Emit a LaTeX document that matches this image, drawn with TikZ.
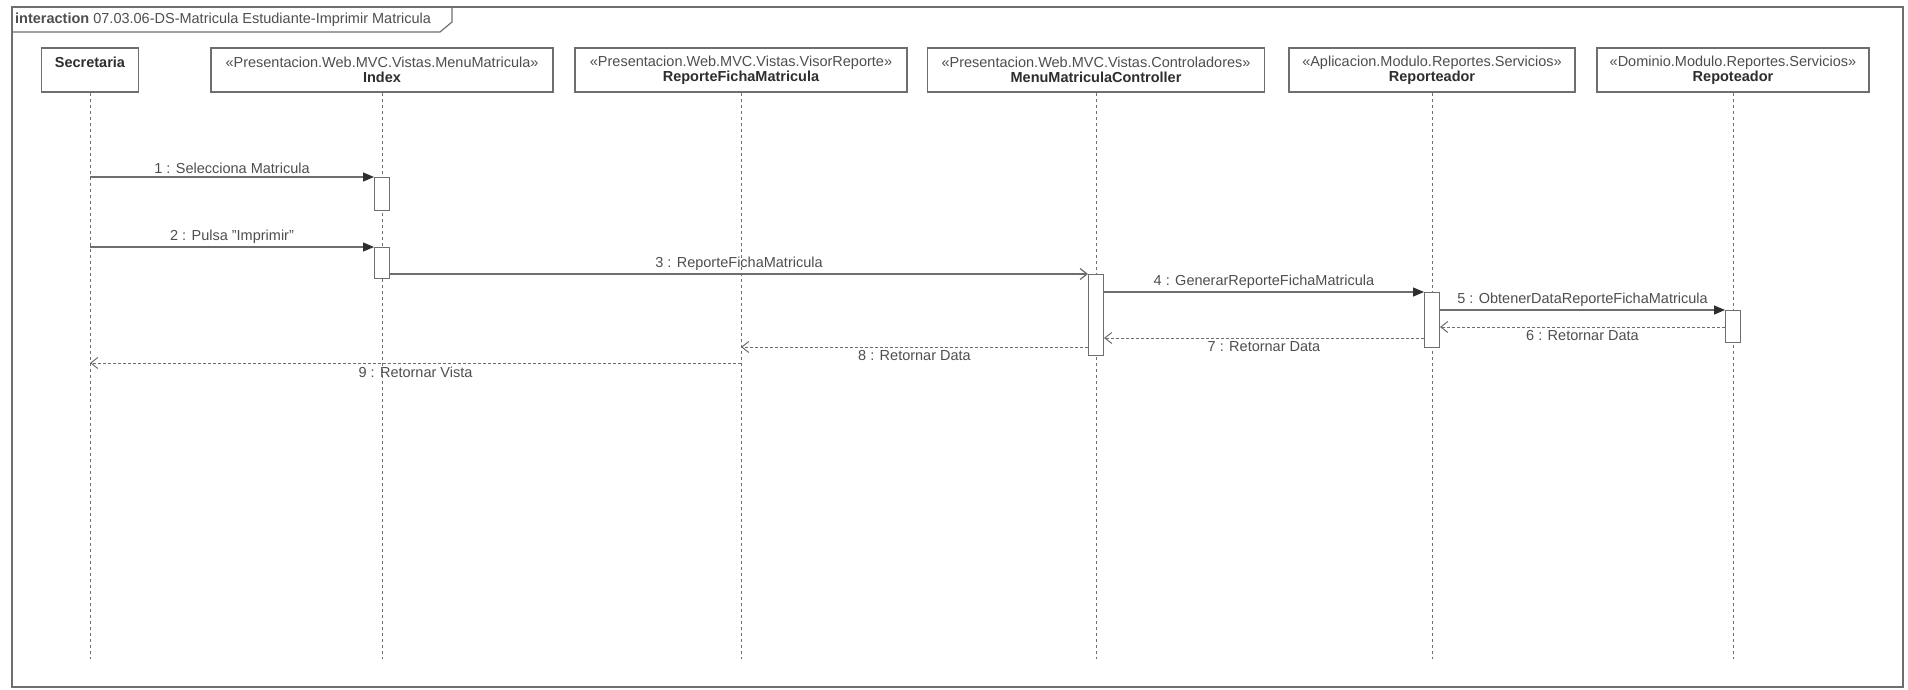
\documentclass[tikz,border=0pt]{standalone}
\usepackage{fontspec}
\setmainfont{Liberation Sans}
\usetikzlibrary{arrows.meta,positioning}

\definecolor{linegray}{HTML}{6E6E6E}
\definecolor{textgray}{HTML}{4E4E4E}
\definecolor{namegray}{HTML}{2E2E2E}

\begin{document}
\begin{tikzpicture}[
        x=1pt, y=-1pt,
        font=\fontsize{14.5}{15.5}\selectfont,
        head/.style={rectangle, draw=linegray, line width=1.2pt, fill=white, minimum height=44pt, inner sep=0pt, align=center, text=textgray},
        lifeline/.style={draw=linegray, line width=0.9pt, dash pattern=on 3pt off 3pt},
        act/.style={rectangle, draw=linegray, line width=1pt, fill=white, minimum width=15pt, inner sep=0pt, anchor=north},
        sync/.style={draw=linegray, line width=1.2pt, -{Triangle[length=11pt,width=9pt,color=namegray]}},
        async/.style={draw=linegray, line width=1.2pt, -{Straight Barb[length=7pt,width=11pt]}},
        reply/.style={draw=linegray, line width=1pt, dash pattern=on 3pt off 2pt, -{Straight Barb[length=7pt,width=11pt]}},
        msg/.style={text=textgray, inner sep=1pt}
    ]
    \useasboundingbox (0,0) rectangle (1908,689);

    % Frame
    \draw[linegray, line width=1.2pt] (12,7) rectangle (1903,687);
    \node[anchor=west, text=textgray, inner sep=0pt] (title) at (15,20) {\textbf{interaction} 07.03.06-DS-Matricula Estudiante-Imprimir Matricula};
    \draw[linegray, line width=1.2pt] (12,32) -- (440,32) -- (452,22) -- (452,7);

    % Lifelines
    \node[head, minimum width=97pt] (sec) at (90,70) {\textcolor{namegray}{\textbf{Secretaria}}\\ \phantom{X}};
    \node[head, minimum width=342pt] (index) at (382,70) {«Presentacion.Web.MVC.Vistas.MenuMatricula»\\ \textcolor{namegray}{\textbf{Index}}};
    \node[head, minimum width=332pt] (visor) at (741,70) {«Presentacion.Web.MVC.Vistas.VisorReporte»\\ \textcolor{namegray}{\textbf{ReporteFichaMatricula}}};
    \node[head, minimum width=337pt] (ctrl) at (1096,70) {«Presentacion.Web.MVC.Vistas.Controladores»\\ \textcolor{namegray}{\textbf{MenuMatriculaController}}};
    \node[head, minimum width=286pt] (rep) at (1432,70) {«Aplicacion.Modulo.Reportes.Servicios»\\ \textcolor{namegray}{\textbf{Reporteador}}};
    \node[head, minimum width=272pt] (repo) at (1733,70) {«Dominio.Modulo.Reportes.Servicios»\\ \textcolor{namegray}{\textbf{Repoteador}}};

    \coordinate (bottom) at (0,659);
    \foreach \h in {sec,index,visor,ctrl,rep,repo}
        \draw[lifeline] (\h.south) -- (\h.south |- bottom);

    % Activations
    \node[act, minimum height=33pt] (act1) at (382,177) {};
    \node[act, minimum height=31pt] (act2) at (382,247) {};
    \node[act, minimum height=81pt] (act3) at (1096,274) {};
    \node[act, minimum height=55pt] (act4) at (1432,292) {};
    \node[act, minimum height=32pt] (act5) at (1733,310) {};

    % Return levels
    \coordinate (r6) at (0,327);
    \coordinate (r7) at (0,338);
    \coordinate (r8) at (0,347);
    \coordinate (r9) at (0,363);

    % Messages
    \draw[sync] (sec |- act1.north) -- node[msg, above=2pt] {1 : Selecciona Matricula} (act1.north west);
    \draw[sync] (sec |- act2.north) -- node[msg, above=2pt] {2 : Pulsa "Imprimir"} (act2.north west);
    \draw[async] (act2.east |- act3.north) -- node[msg, above=2pt] {3 : ReporteFichaMatricula} (act3.north west);
    \draw[sync] (act3.east |- act4.north) -- node[msg, above=2pt] {4 : GenerarReporteFichaMatricula} (act4.north west);
    \draw[sync] (act4.east |- act5.north) -- node[msg, above=2pt] {5 : ObtenerDataReporteFichaMatricula} (act5.north west);
    \draw[reply] (act5.west |- r6) -- node[msg, below=2pt] {6 : Retornar Data} (act4.east |- r6);
    \draw[reply] (act4.west |- r7) -- node[msg, below=2pt] {7 : Retornar Data} (act3.east |- r7);
    \draw[reply] (act3.west |- r8) -- node[msg, below=2pt] {8 : Retornar Data} (visor |- r8);
    \draw[reply] (visor |- r9) -- node[msg, below=2pt] {9 : Retornar Vista} (sec |- r9);

\end{tikzpicture}
\end{document}
